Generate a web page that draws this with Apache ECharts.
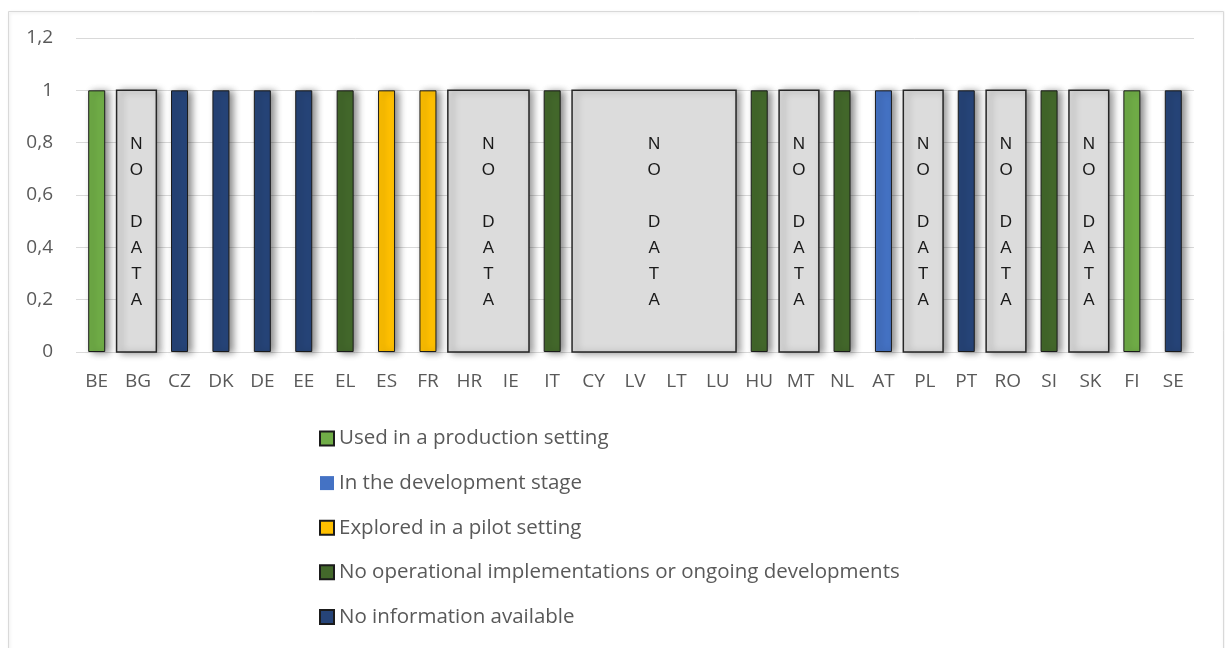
<!DOCTYPE html>
<html>
<head>
<meta charset="utf-8">
<script src="https://cdn.jsdelivr.net/npm/echarts@6/dist/echarts.min.js"></script>
<style>
  html, body { margin: 0; padding: 0; background: #fff; }
  #chart { width: 1225px; height: 648px; }
</style>
</head>
<body>
<div id="chart"></div>
<script>
(function() {
  var countries = ['BE', 'BG', 'CZ', 'DK', 'DE', 'EE', 'EL', 'ES', 'FR', 'HR', 'IE', 'IT', 'CY', 'LV',
    'LT', 'LU', 'HU', 'MT', 'NL', 'AT', 'PL', 'PT', 'RO', 'SI', 'SK', 'FI', 'SE'];

  // one value per country, null where the country has another status
  var production = [1, null, null, null, null, null, null, null, null, null, null, null, null, null,
    null, null, null, null, null, null, null, null, null, null, null, 1, null];
  var development = [null, null, null, null, null, null, null, null, null, null, null, null, null, null,
    null, null, null, null, null, 1, null, null, null, null, null, null, null];
  var pilot = [null, null, null, null, null, null, null, 1, 1, null, null, null, null, null,
    null, null, null, null, null, null, null, null, null, null, null, null, null];
  var noOperational = [null, null, null, null, null, null, 1, null, null, null, null, 1, null, null,
    null, null, 1, null, 1, null, null, null, null, 1, null, null, null];
  var noInformation = [null, null, 1, 1, 1, 1, null, null, null, null, null, null, null, null,
    null, null, null, null, null, null, null, 1, null, null, null, null, 1];

  // grey "NO DATA" boxes, first and last country covered
  var noDataRanges = [['BG', 'BG'], ['HR', 'IE'], ['CY', 'LU'], ['MT', 'MT'], ['PL', 'PL'], ['RO', 'RO'], ['SK', 'SK']];
  var noDataText = 'N\nO\n\nD\nA\nT\nA';

  var yTicks = { min: 0, max: 1.2, interval: 0.2 };

  var statusNames = [
    'Used in a production setting',
    'In the development stage',
    'Explored in a pilot setting',
    'No operational implementations or ongoing developments',
    'No information available'
  ];
  var statusValues = [production, development, pilot, noOperational, noInformation];
  var statusColors = ['#70ad47', '#4472c4', '#ffc000', '#43682b', '#264478'];

  var labelColor = '#595959';
  var font = 'Open Sans';

  var chart = echarts.init(document.getElementById('chart'), null, { renderer: 'canvas' });

  var series = statusNames.map(function(name, i) {
    return {
      name: name,
      type: 'bar',
      stack: 'status',
      barWidth: 17,
      data: statusValues[i],
      itemStyle: {
        color: statusColors[i],
        borderColor: '#1b1b1b',
        borderWidth: 1,
        shadowColor: 'rgba(0,0,0,0.45)',
        shadowBlur: 7,
        shadowOffsetX: 4,
        shadowOffsetY: 1
      }
    };
  });

  series.push({
    name: 'NO DATA',
    type: 'custom',
    z: 3,
    data: noDataRanges.map(function(r) {
      return [countries.indexOf(r[0]), countries.indexOf(r[1]), 1];
    }),
    encode: { x: [0, 1], y: 2 },
    renderItem: function(params, api) {
      var band = api.size([1, 0])[0];
      var a = api.coord([api.value(0), 0]);
      var b = api.coord([api.value(1), api.value(2)]);
      var x0 = a[0] - band * 0.52;
      var x1 = b[0] + band * 0.44;
      var y0 = b[1];
      var y1 = a[1];
      return {
        type: 'group',
        children: [
          {
            type: 'rect',
            shape: { x: x0, y: y0, width: x1 - x0, height: y1 - y0 },
            style: {
              fill: '#dcdcdc',
              stroke: '#262626',
              lineWidth: 1.5,
              shadowColor: 'rgba(0,0,0,0.4)',
              shadowBlur: 7,
              shadowOffsetX: 4,
              shadowOffsetY: 1
            }
          },
          {
            type: 'text',
            x: (x0 + x1) / 2,
            y: (y0 + y1) / 2 + 1,
            style: {
              text: noDataText,
              fill: '#1a1a1a',
              font: '17px "Liberation Sans"',
              lineHeight: 26,
              align: 'center',
              verticalAlign: 'middle'
            }
          }
        ]
      };
    }
  });

  var legendData = statusNames.map(function(name, i) {
    var item = { name: name };
    if (i === 1) item.itemStyle = { borderWidth: 0 };
    return item;
  });

  chart.setOption({
    animation: false,
    backgroundColor: '#fff',
    graphic: [{
      type: 'rect',
      left: 6,
      top: 9,
      shape: { width: 1215, height: 660 },
      style: {
        fill: 'none',
        stroke: '#d9d9d9',
        lineWidth: 1,
        shadowColor: 'rgba(0,0,0,0.12)',
        shadowBlur: 3,
        shadowOffsetX: 1,
        shadowOffsetY: 1
      },
      z: -1
    }],
    grid: { left: 76, right: 31, top: 38, bottom: 296 },
    legend: {
      data: legendData,
      icon: 'rect',
      orient: 'vertical',
      left: 314,
      top: 423,
      itemWidth: 14,
      itemHeight: 14,
      itemGap: 23.6,
      textStyle: { color: labelColor, fontSize: 20.5, lineHeight: 20, fontFamily: font },
      itemStyle: { shadowBlur: 0, shadowOffsetX: 0, shadowOffsetY: 0 }
    },
    xAxis: {
      type: 'category',
      data: countries,
      axisLine: { show: false },
      axisTick: { show: false },
      axisLabel: { color: labelColor, fontSize: 19, fontFamily: font, margin: 20, interval: 0 }
    },
    yAxis: {
      type: 'value',
      min: yTicks.min,
      max: yTicks.max,
      interval: yTicks.interval,
      axisLine: { show: false },
      axisTick: { show: false },
      axisLabel: {
        color: labelColor,
        fontSize: 19,
        fontFamily: font,
        margin: 23,
        formatter: function(v) { return String(Math.round(v * 10) / 10).replace('.', ','); }
      },
      splitLine: { lineStyle: { color: '#d9d9d9', width: 1 } }
    },
    series: series
  });
})();
</script>
</body>
</html>
